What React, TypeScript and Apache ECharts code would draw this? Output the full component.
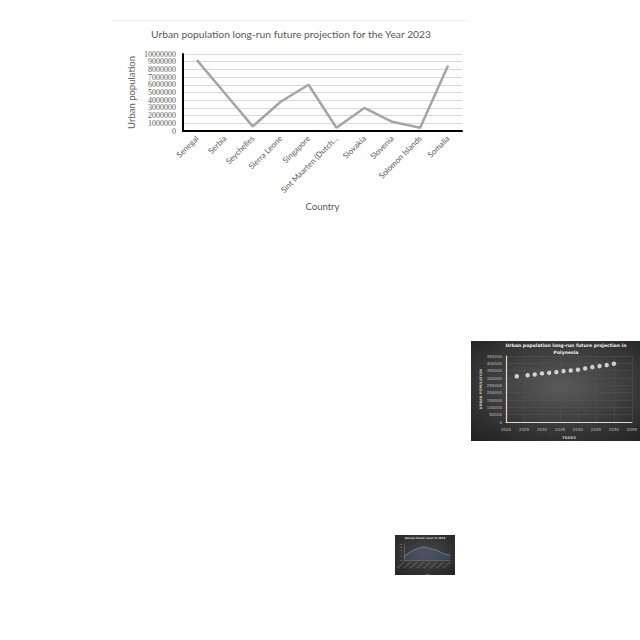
import React, { useEffect, useRef } from "react";
import * as echarts from "echarts";

// Main chart data
const countries = [
  "Senegal",
  "Serbia",
  "Seychelles",
  "Sierra Leone",
  "Singapore",
  "Sint Maarten (Dutch part)",
  "Slovakia",
  "Slovenia",
  "Solomon Islands",
  "Somalia",
];
const urbanPop2023 = [9200000, 4900000, 600000, 3800000, 6000000, 420000, 3000000, 1200000, 430000, 8500000];

// Polynesia inset data
const polyYears = [2023, 2026, 2028, 2030, 2032, 2034, 2036, 2038, 2040, 2042, 2044, 2046, 2048, 2050];
const polyPop = [312000, 319000, 324000, 331000, 335000, 340000, 347000, 351000, 356000, 365000, 374000, 381000, 388000, 397000];

// Tiny third chart data (illegible in reference, estimated)
const tinyCats = ["a", "b", "c", "d", "e", "f", "g", "h"];
const tinyVals = [2, 5, 7, 8, 7, 6, 4, 3];

const FONT = "Lato";

export default function App() {
  const ref = useRef<HTMLDivElement>(null);
  useEffect(() => {
    if (!ref.current) return;
    const chart = echarts.init(ref.current, undefined, { renderer: "svg" });
    const grey = "#595959";
    const plain = (v: number) => String(v);
    const evenOnly = (v: number) => (Math.round(v / 1000000) % 2 === 0 ? String(v) : "");
    const oddOnly = (v: number) => (Math.round(v / 1000000) % 2 === 1 ? String(v) : "");
    const mainYLabel = {
      fontSize: 8,
      color: grey,
      margin: 7,
      fontFamily: "Liberation Serif",
      showMinLabel: true,
      showMaxLabel: true,
    };
    const option: any = {
      animation: false,
      backgroundColor: "#ffffff",
      textStyle: { fontFamily: FONT },
      title: [
        {
          text: "Urban population long-run future projection for the Year 2023",
          left: 291,
          top: 29,
          padding: 0,
          textAlign: "center",
          textStyle: { fontSize: 10.3, fontWeight: "normal", color: grey, fontFamily: FONT },
        },
        {
          text: "Urban population long-run future projection in\nPolynesia",
          left: 566,
          top: 342,
          padding: 0,
          textAlign: "center",
          textStyle: { fontSize: 4.6, fontWeight: "bold", color: "#f2f2f2", lineHeight: 7, fontFamily: "DejaVu Sans" },
        },
        {
          text: "Annual forest cover in 2019",
          left: 425,
          top: 537,
          padding: 0,
          textAlign: "center",
          textStyle: { fontSize: 2.6, fontWeight: "bold", color: "#dddddd", fontFamily: "DejaVu Sans" },
        },
      ],
      graphic: {
        elements: [
          {
            type: "line",
            z: -10,
            shape: { x1: 113, y1: 20.5, x2: 468, y2: 20.5 },
            style: { stroke: "#eeeeee", lineWidth: 1 },
          },
          {
            type: "rect",
            z: -10,
            shape: { x: 471, y: 341, width: 180, height: 100 },
            style: {
              fill: {
                type: "radial",
                x: 0.5,
                y: 0.45,
                r: 0.75,
                colorStops: [
                  { offset: 0, color: "#5a5a5a" },
                  { offset: 1, color: "#1f1f1f" },
                ],
              },
            },
          },
          {
            type: "rect",
            z: -10,
            shape: { x: 395, y: 535, width: 60, height: 40 },
            style: {
              fill: {
                type: "radial",
                x: 0.5,
                y: 0.45,
                r: 0.75,
                colorStops: [
                  { offset: 0, color: "#4a4a4a" },
                  { offset: 1, color: "#222222" },
                ],
              },
            },
          },
        ],
      },
      grid: [
        { left: 183, top: 54, width: 279, height: 77, containLabel: false },
        { left: 506, top: 356, width: 126, height: 66, containLabel: false },
        { left: 404, top: 544, width: 46, height: 16, containLabel: false },
      ],
      xAxis: [
        {
          type: "category",
          gridIndex: 0,
          data: countries,
          boundaryGap: true,
          axisLine: { show: true, lineStyle: { color: "#000000", width: 2 } },
          axisTick: { show: false },
          axisLabel: {
            interval: 0,
            rotate: 45,
            fontSize: 8,
            color: grey,
            margin: 6,
            fontFamily: FONT,
            formatter: (v: string) => (v.length > 20 ? v.slice(0, 19) + "\u2026" : v),
          },
          name: "Country",
          nameLocation: "middle",
          nameGap: 70,
          nameTextStyle: { fontSize: 9.5, color: grey, fontFamily: FONT },
        },
        {
          type: "value",
          gridIndex: 1,
          min: 2020,
          max: 2055,
          interval: 5,
          axisLine: { show: true, lineStyle: { color: "#d9d9d9", width: 1.2 } },
          axisTick: { show: false },
          splitLine: { show: true, lineStyle: { color: "#555555", width: 0.5 } },
          axisLabel: { fontSize: 4, color: "#bfbfbf", margin: 5, fontFamily: "DejaVu Sans", formatter: plain },
          name: "YEARS",
          nameLocation: "middle",
          nameGap: 13,
          nameTextStyle: { fontSize: 3.8, color: "#bfbfbf", fontWeight: "bold", fontFamily: "DejaVu Sans" },
        },
        {
          type: "category",
          gridIndex: 2,
          data: tinyCats,
          boundaryGap: false,
          axisLine: { show: true, lineStyle: { color: "#888888", width: 0.5 } },
          axisTick: { show: false },
          axisLabel: { show: true, fontSize: 2.5, color: "#aaaaaa", rotate: 45, interval: 0, margin: 2, formatter: () => "Xxxxxxx" },
          name: "Year",
          nameLocation: "middle",
          nameGap: 10,
          nameTextStyle: { fontSize: 2.5, color: "#aaaaaa" },
        },
      ],
      yAxis: [
        {
          type: "value",
          gridIndex: 0,
          position: "left",
          min: 0,
          max: 10000000,
          interval: 1000000,
          axisLine: { show: true, lineStyle: { color: "#000000", width: 2 } },
          axisTick: { show: false },
          splitLine: { show: true, lineStyle: { color: "#d9d9d9", width: 1 } },
          axisLabel: { ...mainYLabel, formatter: evenOnly },
          name: "Urban population",
          nameLocation: "middle",
          nameGap: 47,
          nameRotate: 90,
          nameTextStyle: { fontSize: 9.5, color: grey, fontFamily: FONT },
        },
        {
          type: "value",
          gridIndex: 1,
          min: 0,
          max: 450000,
          interval: 50000,
          axisLine: { show: true, lineStyle: { color: "#d9d9d9", width: 1.2 } },
          axisTick: { show: false },
          splitLine: { show: true, lineStyle: { color: "#555555", width: 0.5 } },
          axisLabel: { fontSize: 4, color: "#bfbfbf", margin: 4, fontFamily: "DejaVu Sans", formatter: plain, showMinLabel: true, showMaxLabel: true },
          name: "URBAN POPULATION",
          nameLocation: "middle",
          nameGap: 21,
          nameRotate: 90,
          nameTextStyle: { fontSize: 3.5, color: "#bfbfbf", fontWeight: "bold", fontFamily: "DejaVu Sans" },
        },
        {
          type: "value",
          gridIndex: 2,
          min: 0,
          max: 10,
          interval: 2,
          axisLine: { show: true, lineStyle: { color: "#888888", width: 0.5 } },
          axisTick: { show: false },
          splitLine: { show: false },
          axisLabel: { fontSize: 2.5, color: "#aaaaaa", margin: 2 },
        },
        {
          type: "value",
          gridIndex: 0,
          position: "left",
          offset: 0,
          min: 0,
          max: 10000000,
          interval: 1000000,
          axisLine: { show: false },
          axisTick: { show: false },
          splitLine: { show: false },
          axisLabel: { ...mainYLabel, formatter: oddOnly },
        },
      ],
      series: [
        {
          type: "line",
          xAxisIndex: 0,
          yAxisIndex: 0,
          data: urbanPop2023,
          showSymbol: false,
          symbol: "none",
          lineStyle: { color: "#a5a5a5", width: 2.5 },
        },
        {
          type: "scatter",
          xAxisIndex: 1,
          yAxisIndex: 1,
          data: polyYears.map((y, i) => [y, polyPop[i]]),
          symbol: "circle",
          symbolSize: 5,
          itemStyle: { color: "#f5f5f5", borderColor: "#333333", borderWidth: 0.6 },
        },
        {
          type: "line",
          xAxisIndex: 2,
          yAxisIndex: 2,
          data: tinyVals,
          symbol: "none",
          smooth: true,
          lineStyle: { color: "#6f8fb8", width: 0.8 },
          areaStyle: { color: "rgba(90,120,170,0.35)" },
        },
      ],
    };
    chart.setOption(option);
    return () => chart.dispose();
  }, []);
  return (
    <div
      ref={ref}
      style={{ position: "fixed", left: 0, top: 0, width: 640, height: 640 }}
    />
  );
}
